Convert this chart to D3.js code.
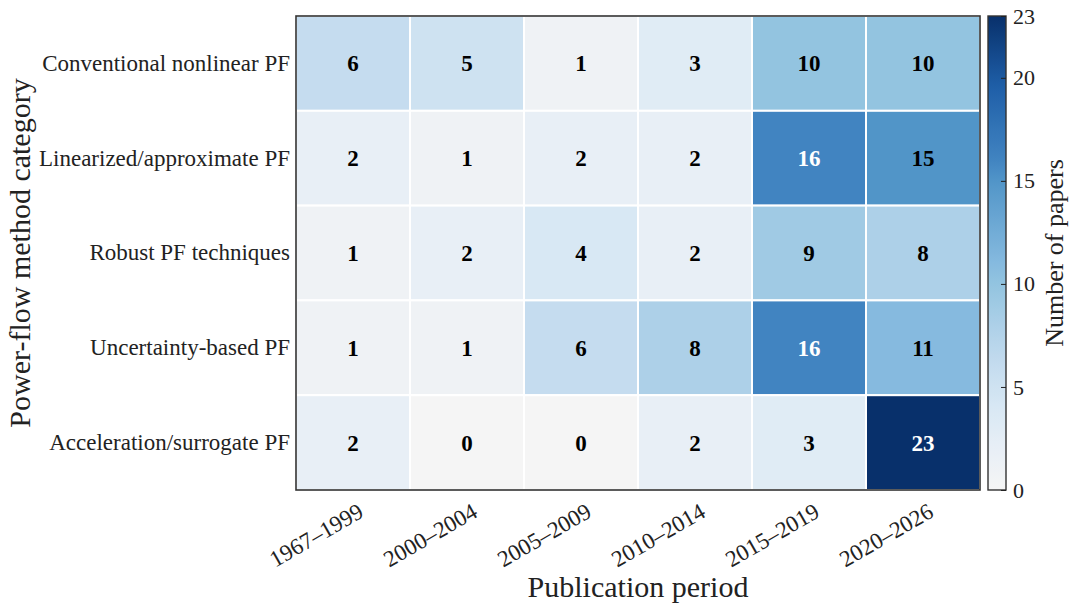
<!DOCTYPE html>
<html>
<head>
<meta charset="utf-8">
<script src="https://cdn.jsdelivr.net/npm/d3@7"></script>
<style>
  body { margin: 0; background: #fff; }
  text { font-family: "Liberation Serif", "Times New Roman", serif; }
</style>
</head>
<body>
<svg id="chart"></svg>
<script>
const WIDTH = 1077;
const HEIGHT = 612;

// data
const categories = [
  "Conventional nonlinear PF",
  "Linearized/approximate PF",
  "Robust PF techniques",
  "Uncertainty-based PF",
  "Acceleration/surrogate PF"
];
const periods = ["1967–1999", "2000–2004", "2005–2009", "2010–2014", "2015–2019", "2020–2026"];
const counts = [
  [6, 5, 1, 3, 10, 10],
  [2, 1, 2, 2, 16, 15],
  [1, 2, 4, 2, 9, 8],
  [1, 1, 6, 8, 16, 11],
  [2, 0, 0, 2, 3, 23]
];
const colorTicks = [0, 5, 10, 15, 20, 23];

const margin = {top: 16, right: 97, bottom: 122, left: 296};
const plotW = 980 - margin.left;
const plotH = 490 - margin.top;

const svg = d3.select("#chart")
    .attr("width", WIDTH)
    .attr("height", HEIGHT);

const g = svg.append("g")
    .attr("transform", `translate(${margin.left},${margin.top})`);

const x = d3.scaleBand().domain(periods).range([0, plotW]);
const y = d3.scaleBand().domain(categories).range([0, plotH]);

const vmax = d3.max(counts.flat());
// light-gray to dark-blue map, stops picked to match the reference cells
const cmapStops = [0, 0.087, 0.174, 0.26, 0.348, 0.435, 0.478, 0.652, 0.696, 0.85, 1];
const cmapColors = ["#f5f5f5", "#e8eff6", "#d8e8f4", "#c5dcef", "#add0e8", "#93c4e0",
                    "#86badf", "#5195c8", "#4184c1", "#1f5fa8", "#08306b"];
const color = d3.scaleLinear()
    .domain(cmapStops.map(t => t * vmax))
    .range(cmapColors)
    .interpolate(d3.interpolateRgb);

const cells = [];
categories.forEach((c, i) => {
  periods.forEach((p, j) => {
    cells.push({cat: c, per: p, value: counts[i][j]});
  });
});

g.append("g")
  .selectAll("rect")
  .data(cells)
  .join("rect")
    .attr("x", d => x(d.per))
    .attr("y", d => y(d.cat))
    .attr("width", x.bandwidth())
    .attr("height", y.bandwidth())
    .attr("fill", d => color(d.value))
    .attr("stroke", "#fff")
    .attr("stroke-width", 2);

g.append("g")
  .selectAll("text")
  .data(cells)
  .join("text")
    .attr("x", d => x(d.per) + x.bandwidth() / 2)
    .attr("y", d => y(d.cat) + y.bandwidth() / 2)
    .attr("dy", "0.35em")
    .attr("text-anchor", "middle")
    .style("font-size", "23px")
    .style("font-weight", "bold")
    .attr("fill", d => d.value >= 16 ? "#fff" : "#000")
    .text(d => d.value);

// frame
g.append("rect")
    .attr("width", plotW)
    .attr("height", plotH)
    .attr("fill", "none")
    .attr("stroke", "#333")
    .attr("stroke-width", 1.6);

// y axis labels
const yAxis = g.append("g")
    .call(d3.axisLeft(y).tickSize(0).tickPadding(6));
yAxis.select(".domain").remove();
yAxis.selectAll("text")
    .style("font-size", "23px")
    .attr("fill", "#222");

// x axis labels
const xAxis = g.append("g")
    .attr("transform", `translate(0,${plotH})`)
    .call(d3.axisBottom(x).tickSize(0).tickPadding(0));
xAxis.select(".domain").remove();
xAxis.selectAll("text")
    .style("font-size", "23px")
    .attr("fill", "#222")
    .attr("text-anchor", "end")
    .attr("y", 0)
    .attr("dy", 0)
    .attr("transform", "translate(12,26) rotate(-30)");

svg.append("text")
    .attr("x", margin.left + plotW / 2)
    .attr("y", 597)
    .attr("text-anchor", "middle")
    .style("font-size", "30px")
    .attr("fill", "#222")
    .text("Publication period");

svg.append("text")
    .attr("transform", `translate(30,${margin.top + plotH / 2}) rotate(-90)`)
    .attr("text-anchor", "middle")
    .style("font-size", "30px")
    .attr("fill", "#222")
    .text("Power-flow method category");

// colorbar
const cbX = 988, cbW = 18;
const cbScale = d3.scaleLinear().domain([0, vmax]).range([490, margin.top]);

const defs = svg.append("defs");
const grad = defs.append("linearGradient")
    .attr("id", "cbgrad")
    .attr("x1", 0).attr("y1", 1).attr("x2", 0).attr("y2", 0);
d3.range(0, 1.0001, 0.02).forEach(t => {
  grad.append("stop")
    .attr("offset", t)
    .attr("stop-color", color(t * vmax));
});

svg.append("rect")
    .attr("x", cbX)
    .attr("y", margin.top)
    .attr("width", cbW)
    .attr("height", plotH)
    .attr("fill", "url(#cbgrad)")
    .attr("stroke", "#333")
    .attr("stroke-width", 1.4);

const cbAxis = svg.append("g")
    .attr("transform", `translate(${cbX + cbW},0)`)
    .call(d3.axisRight(cbScale).tickValues(colorTicks).tickSize(-5).tickPadding(7));
cbAxis.select(".domain").remove();
cbAxis.selectAll("line").attr("stroke", "#222");
cbAxis.selectAll("text")
    .style("font-size", "22px")
    .attr("fill", "#222");

svg.append("text")
    .attr("transform", `translate(1063,${margin.top + plotH / 2}) rotate(-90)`)
    .attr("text-anchor", "middle")
    .style("font-size", "26px")
    .attr("fill", "#222")
    .text("Number of papers");
</script>
</body>
</html>
